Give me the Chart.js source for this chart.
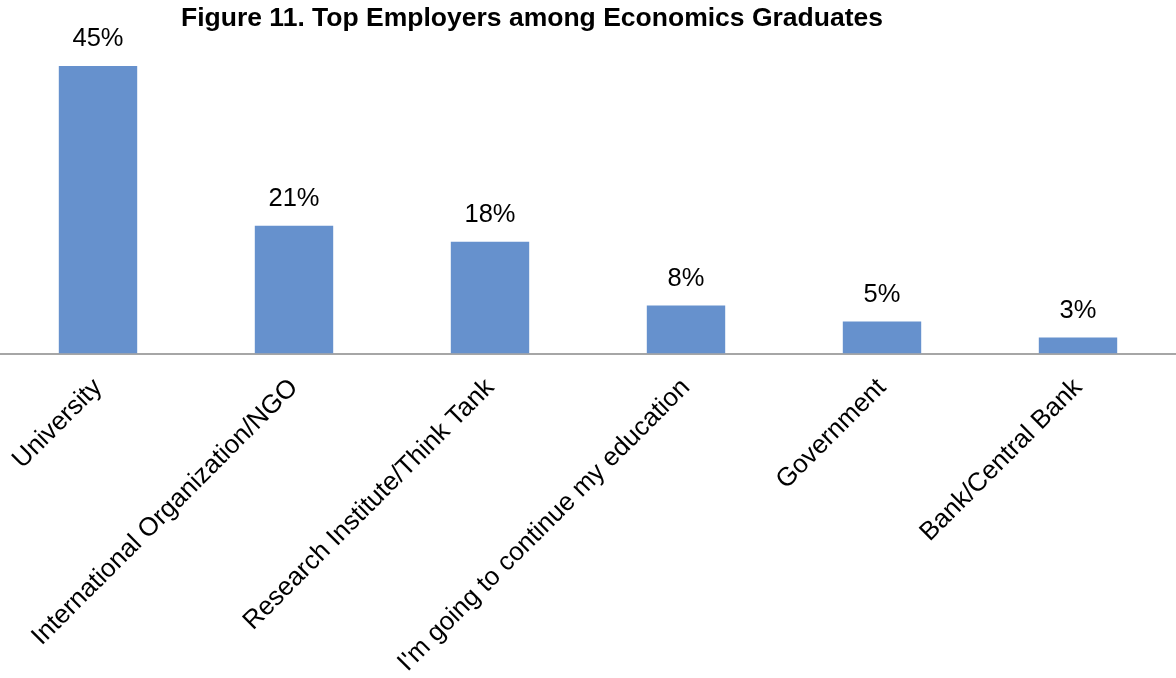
<!DOCTYPE html>
<html>
<head>
<meta charset="utf-8">
<script src="https://cdn.jsdelivr.net/npm/chart.js@4/dist/chart.umd.min.js"></script>
<style>
  html, body { margin: 0; padding: 0; background: #ffffff; }
  #wrap { width: 1176px; height: 678px; position: relative; }
</style>
</head>
<body>
<div id="wrap"><canvas id="c" width="1176" height="678"></canvas></div>
<script>
const chartTitle = "Figure 11. Top Employers among Economics Graduates";
const categories = [
  "University",
  "International Organization/NGO",
  "Research Institute/Think Tank",
  "I'm going to continue my education",
  "Government",
  "Bank/Central Bank"
];
const barValues = [45, 20, 17.5, 7.5, 5, 2.5];
const valueLabels = ["45%", "21%", "18%", "8%", "5%", "3%"];

const FONT = "'Liberation Sans', Arial, Helvetica, sans-serif";

const titlePlugin = {
  id: 'customTitle',
  afterDraw(chart) {
    const ctx = chart.ctx;
    ctx.save();
    ctx.font = "bold 26.5px " + FONT;
    ctx.fillStyle = "#000";
    ctx.textAlign = "center";
    ctx.textBaseline = "alphabetic";
    ctx.fillText(chartTitle, 532, 26);
    ctx.restore();
  }
};

const valueLabelPlugin = {
  id: 'valueLabels',
  afterDatasetsDraw(chart) {
    const ctx = chart.ctx;
    const meta = chart.getDatasetMeta(0);
    ctx.save();
    ctx.font = "25.5px " + FONT;
    ctx.fillStyle = "#000";
    ctx.textAlign = "center";
    ctx.textBaseline = "alphabetic";
    meta.data.forEach((bar, i) => {
      ctx.fillText(valueLabels[i], bar.x, bar.y - 20);
    });
    ctx.restore();
  }
};

new Chart(document.getElementById('c'), {
  type: 'bar',
  data: {
    labels: categories,
    datasets: [{
      data: barValues,
      backgroundColor: '#6691CD',
      borderWidth: 0,
      barPercentage: 0.4,
      categoryPercentage: 1.0
    }]
  },
  options: {
    responsive: false,
    animation: false,
    devicePixelRatio: 1,
    layout: { padding: { top: 34, left: 0, right: 0, bottom: 0 } },
    plugins: {
      legend: { display: false },
      title: { display: false },
      tooltip: { enabled: false }
    },
    scales: {
      x: {
        grid: { display: false },
        border: { display: true, color: '#a6a6a6', width: 2 },
        ticks: {
          color: '#000',
          font: { family: FONT, size: 26 },
          minRotation: 45,
          maxRotation: 45,
          autoSkip: false,
          padding: 11
        },
        afterFit(scale) { scale.height = 324.5; }
      },
      y: {
        display: false,
        min: 0,
        max: 50
      }
    }
  },
  plugins: [titlePlugin, valueLabelPlugin]
});
</script>
</body>
</html>
